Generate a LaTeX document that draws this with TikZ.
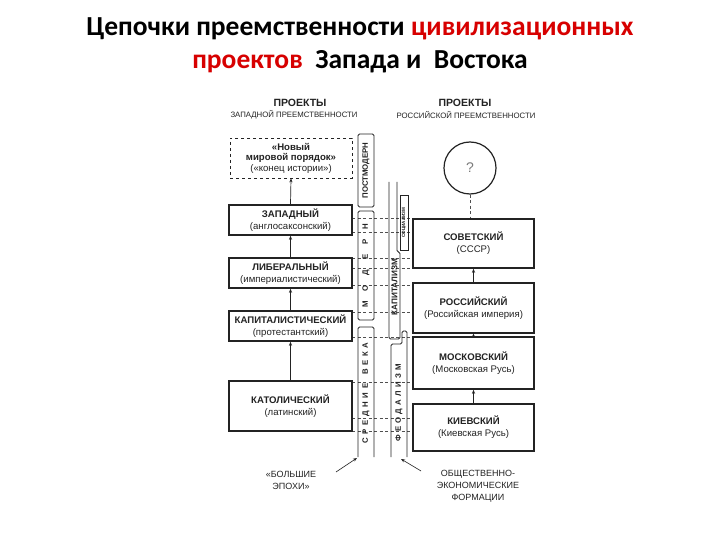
\documentclass[tikz,border=0pt]{standalone}
\usepackage{fontspec}
\setmainfont{Liberation Sans}
\newfontfamily\titlefont{Carlito}
\usetikzlibrary{arrows.meta}
\definecolor{tred}{RGB}{215,0,0}
\definecolor{ink}{RGB}{35,35,35}
\newcommand{\gp}[1]{\hspace{#1}}
\begin{document}
\begin{tikzpicture}[x=1pt,y=-1pt,
  every node/.style={text=ink},
  box/.style={draw=ink, line width=1.6pt, minimum width=123pt, align=center, inner sep=1pt,
    font=\fontsize{9.6}{12}\selectfont},
  rbox/.style={box, minimum width=121pt},
  strip/.style={draw=ink, line width=0.8pt, rounded corners=1.5pt, rotate=90, minimum height=16pt,
    inner sep=0pt, font=\bfseries\fontsize{7.8}{9}\selectfont},
  stext/.style={rotate=90, inner sep=0pt, font=\bfseries\fontsize{7.8}{9}\selectfont},
  arr/.style={draw=ink, line width=0.7pt, -{Stealth[length=4pt,width=3.2pt]}},
  guide/.style={draw=ink!80, line width=0.5pt, dash pattern=on 3pt off 2.5pt},
  edge/.style={draw=ink, line width=0.8pt},
  ttl/.style={text=black, font=\titlefont\bfseries\fontsize{27.5}{32}\selectfont},
  small/.style={font=\fontsize{9}{12}\selectfont, align=center, inner sep=0pt}]
\useasboundingbox[fill=white] (0,0) rectangle (720,540);

% title
\node[ttl] (t1) at (360,29) {Цепочки преемственности \textcolor{tred}{цивилизационных}};
\node[ttl] (t2) at (360,62) {\textcolor{tred}{проектов}\ \ Запада и\ \ Востока};

% headers
\node (hl1) at (300,103) {\bfseries\fontsize{10.5}{12}\selectfont ПРОЕКТЫ};
\node (hl2) at (294,115) {\fontsize{7.8}{9}\selectfont ЗАПАДНОЙ ПРЕЕМСТВЕННОСТИ};
\node (hr1) at (465,103) {\bfseries\fontsize{10.5}{12}\selectfont ПРОЕКТЫ};
\node (hr2) at (466,115) {\fontsize{7.8}{9}\selectfont РОССИЙСКОЙ ПРЕЕМСТВЕННОСТИ};

% dashed guides
\foreach \yy in {218,232,258,268,285,312,337,382,418,431}
  \draw[guide] (352,\yy) -- (413,\yy);

% left column
\node[box, draw=ink, line width=0.8pt, dashed, minimum width=122pt, minimum height=40pt] (nwo) at (291,158)
  {\textbf{«Новый}\\[-1.5pt]\textbf{мировой порядок»}\\[-1.5pt](«конец истории»)};
\node[box, minimum height=30pt, fill=white] (zap) at (290.5,220) {\textbf{ЗАПАДНЫЙ}\\(англосаксонский)};
\node[box, minimum height=30pt, fill=white] (lib) at (290.5,273) {\textbf{ЛИБЕРАЛЬНЫЙ}\\(империалистический)};
\node[box, minimum height=30pt, fill=white] (kap) at (290.5,326) {\textbf{КАПИТАЛИСТИЧЕСКИЙ}\\(протестантский)};
\node[box, minimum height=50pt, fill=white] (kat) at (290.5,406) {\textbf{КАТОЛИЧЕСКИЙ}\\(латинский)};
\draw[arr] (kat.north) -- (kap.south);
\draw[arr] (kap.north) -- (lib.south);
\draw[arr] (lib.north) -- (zap.south);
\draw[arr] (zap.north) -- (nwo.south);

% right column
\node[circle, draw=ink, line width=1.2pt, minimum size=52pt, inner sep=0pt, fill=white] (q) at (470,168)
  {\fontsize{14}{16}\selectfont\color{ink!60}?};
\node[rbox, minimum height=49pt, fill=white] (sov) at (473.5,243.5) {\textbf{СОВЕТСКИЙ}\\(СССР)};
\node[rbox, minimum height=50pt, fill=white] (ros) at (473.5,308) {\textbf{РОССИЙСКИЙ}\\(Российская империя)};
\node[rbox, minimum height=52pt, fill=white] (mos) at (473.5,363) {\textbf{МОСКОВСКИЙ}\\(Московская Русь)};
\node[rbox, minimum height=47pt, fill=white] (kie) at (473.5,427.5) {\textbf{КИЕВСКИЙ}\\(Киевская Русь)};
\draw[guide, line width=0.7pt] (q.south) -- (q.south |- sov.north);
\draw[arr] (kie.north) -- (mos.south);
\draw[arr, -{Stealth[length=3pt,width=3pt]}] (mos.north) -- (ros.south);
\draw[arr] (ros.north) -- (sov.south);

% epochs
\node[strip, minimum width=73pt] (pm) at (366,170.5) {ПОСТМОДЕРН};
\node[strip, minimum width=109pt] (mod) at (366,265.5)
  {М\gp{10pt}О\gp{10pt}Д\gp{10pt}Е\gp{10pt}Р\gp{10pt}Н};
\draw[edge, rounded corners=1.5pt] (358,457) -- (358,327) -- (374,327) -- (374,457);
\node[stext] (sv) at (366,393) {С\gp{3.6pt}Р\gp{3.6pt}Е\gp{3.6pt}Д\gp{3.6pt}Н\gp{3.6pt}И\gp{3.6pt}Е\gp{9pt}В\gp{3.6pt}Е\gp{3.6pt}К\gp{3.6pt}А};

% formations
\draw[edge, rounded corners=1.5pt] (389,182) -- (389,339) -- (400,339) -- (400,252) -- (397,252) -- (397,182);
\node[stext] (kp) at (394.5,287) {\fontsize{8.2}{9}\selectfont КАПИТАЛИЗМ};
\node[draw=ink, line width=0.6pt, rotate=90, minimum width=55pt, minimum height=8pt, inner sep=0pt,
  font=\bfseries\fontsize{4.6}{5}\selectfont] (soc) at (404,222.5) {СОЦИАЛИЗМ};
\draw[edge, rounded corners=1.5pt] (391,457) -- (391,344) -- (402,344) -- (402,331) -- (407,331) -- (407,457);
\node[stext] (fe) at (399,403) {Ф\gp{3.2pt}Е\gp{3.2pt}О\gp{3.2pt}Д\gp{3.2pt}А\gp{3.2pt}Л\gp{3.2pt}И\gp{3.2pt}З\gp{3.2pt}М};

% bottom labels
\node[small] (be) at (291,480) {«БОЛЬШИЕ\\ЭПОХИ»};
\node[small] (oef) at (478,486) {ОБЩЕСТВЕННО-\\ЭКОНОМИЧЕСКИЕ\\ФОРМАЦИИ};
\coordinate (beS) at (336,472);
\coordinate (beE) at (357,458);
\coordinate (oeS) at (421,471);
\coordinate (oeE) at (401,459);
\draw[arr, line width=0.6pt] (beS) -- (beE);
\draw[arr, line width=0.6pt] (oeS) -- (oeE);
\end{tikzpicture}
\end{document}
